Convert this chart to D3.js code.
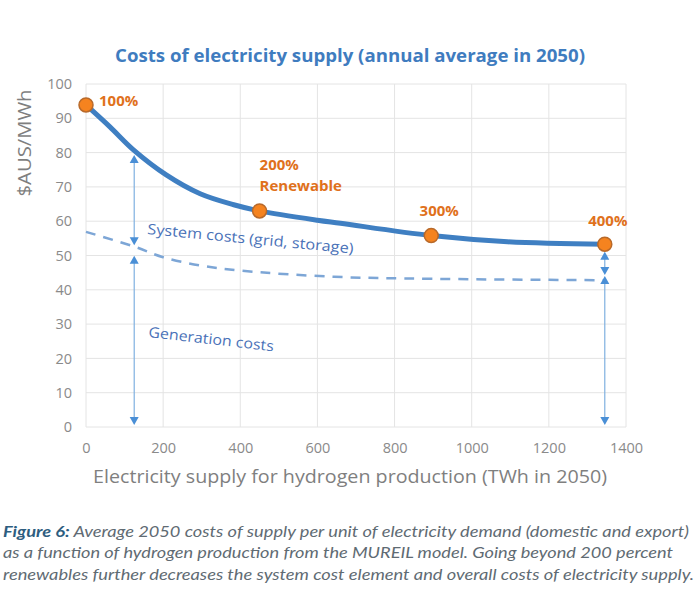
<!DOCTYPE html>
<html><head><meta charset="utf-8">
<script src="https://cdn.jsdelivr.net/npm/d3@7"></script>
<style>body{margin:0;background:#fff}svg{display:block}</style>
</head><body>
<svg id="c" width="700" height="592"></svg>
<script>
// ---- data ----
const xTicks = [0, 200, 400, 600, 800, 1000, 1200, 1400];
const yTicks = [0, 10, 20, 30, 40, 50, 60, 70, 80, 90, 100];
const totalX = [0, 62, 123, 208, 296, 383, 450, 600, 660, 895, 1093, 1345];
const totalY = [93.9, 87.5, 80.8, 73.5, 68.0, 64.8, 63.0, 60.3, 59.4, 55.8, 54.0, 53.3];
const genX = [0, 125, 200, 296, 400, 643, 900, 1345];
const genY = [56.9, 52.6, 49.5, 47.1, 45.6, 43.8, 43.2, 42.8];
const markerX = [0, 450, 895, 1345];
const markerY = [93.9, 63.0, 55.8, 53.3];
const markerLabels = [["100%"], ["200%", "Renewable"], ["300%"], ["400%"]];
const arrowX = [125, 125, 1345, 1345];
const arrowTop = [79.3, 49.9, 51.1, 44.0];
const arrowBottom = [53.0, 0.6, 44.3, 0.6];
const title = "Costs of electricity supply (annual average in 2050)";
const xTitle = "Electricity supply for hydrogen production (TWh in 2050)";
const yTitle = "$AUS/MWh";
const captionBold = "Figure 6:";
const captionLines = [
  " Average 2050 costs of supply per unit of electricity demand (domestic and export)",
  "as a function of hydrogen production from the MUREIL model. Going beyond 200 percent",
  "renewables further decreases the system cost element and overall costs of electricity supply."
];

const svg = d3.select("#c");
const x = d3.scaleLinear().domain([0, 1400]).range([86, 626]);
const y = d3.scaleLinear().domain([0, 100]).range([427, 84]);

// grid
svg.append("g").selectAll("line").data(yTicks).join("line")
  .attr("x1", x(0)).attr("x2", x(1400)).attr("y1", d => y(d)).attr("y2", d => y(d))
  .attr("stroke", "#e4e4e4").attr("stroke-width", 1);
svg.append("g").selectAll("line").data(xTicks).join("line")
  .attr("x1", d => x(d)).attr("x2", d => x(d)).attr("y1", y(0)).attr("y2", y(100))
  .attr("stroke", "#e4e4e4").attr("stroke-width", 1);

// axes
const yAxis = svg.append("g").attr("transform", `translate(${x(0)},0)`)
  .call(d3.axisLeft(y).tickValues(yTicks).tickSize(0).tickPadding(14));
yAxis.select(".domain").remove();
yAxis.selectAll("text").attr("font-family", "Open Sans").attr("font-size", 14.5).attr("fill", "#8a8a8a");
const xAxis = svg.append("g").attr("transform", `translate(0,${y(0)})`)
  .call(d3.axisBottom(x).tickValues(xTicks).tickFormat(d3.format("d")).tickSize(0).tickPadding(16));
xAxis.select(".domain").remove();
xAxis.selectAll("text").attr("font-family", "Open Sans").attr("font-size", 14.5).attr("fill", "#8a8a8a");

// titles
svg.append("text").attr("x", 350).attr("y", 62).attr("text-anchor", "middle")
  .attr("font-family", "Open Sans").attr("font-weight", 700).attr("font-size", 18.5)
  .attr("fill", "#3f7cbf").attr("textLength", 470).attr("lengthAdjust", "spacingAndGlyphs").text(title);
svg.append("text").attr("x", 350).attr("y", 483).attr("text-anchor", "middle")
  .attr("font-family", "Open Sans").attr("font-size", 18.5).attr("fill", "#7f7f7f")
  .attr("textLength", 514).attr("lengthAdjust", "spacingAndGlyphs").text(xTitle);
svg.append("text").attr("transform", "translate(31,143) rotate(-90)").attr("text-anchor", "middle")
  .attr("font-family", "Open Sans").attr("font-size", 18).attr("fill", "#7f7f7f")
  .attr("textLength", 107).attr("lengthAdjust", "spacingAndGlyphs").text(yTitle);

// generation (dashed) line
svg.append("path").datum(genX.map((d, i) => [d, genY[i]]))
  .attr("d", d3.line().x(d => x(d[0])).y(d => y(d[1])).curve(d3.curveCatmullRom.alpha(0.5)))
  .attr("fill", "none").attr("stroke", "#7da6d6").attr("stroke-width", 2.5)
  .attr("stroke-dasharray", "10,8");

// arrows
const ag = svg.append("g");
arrowX.forEach((ax, i) => {
  const px = x(ax), t = y(arrowTop[i]), b = y(arrowBottom[i]);
  ag.append("line").attr("x1", px).attr("x2", px).attr("y1", t + 4).attr("y2", b - 4)
    .attr("stroke", "#7fb0e0").attr("stroke-width", 1.2);
  ag.append("path").attr("d", `M${px},${t} L${px - 4.5},${t + 8} L${px + 4.5},${t + 8} Z`).attr("fill", "#4a8fd6");
  ag.append("path").attr("d", `M${px},${b} L${px - 4.5},${b - 8} L${px + 4.5},${b - 8} Z`).attr("fill", "#4a8fd6");
});

// total line
svg.append("path").datum(totalX.map((d, i) => [d, totalY[i]]))
  .attr("d", d3.line().x(d => x(d[0])).y(d => y(d[1])).curve(d3.curveCatmullRom.alpha(0.5)))
  .attr("fill", "none").attr("stroke", "#3f7fc2").attr("stroke-width", 5).attr("stroke-linecap", "round");

// markers
svg.append("g").selectAll("circle").data(markerX).join("circle")
  .attr("cx", d => x(d)).attr("cy", (d, i) => y(markerY[i])).attr("r", 7)
  .attr("fill", "#f5831f").attr("stroke", "#b8692a").attr("stroke-width", 1.5);

// marker labels
const lblOff = [[13, 1, "start"], [0, -41, "start"], [8, -20, "middle"], [3, -18, "middle"]];
markerLabels.forEach((lines, i) => {
  const px = x(markerX[i]) + lblOff[i][0], py = y(markerY[i]) + lblOff[i][1];
  lines.forEach((s, j) => {
    svg.append("text").attr("x", px).attr("y", py + j * 21).attr("text-anchor", lblOff[i][2])
      .attr("font-family", "Open Sans").attr("font-weight", 700).attr("font-size", 15)
      .attr("fill", "#e0711c").text(s);
  });
});

// annotations
svg.append("text").attr("transform", "translate(147,234) rotate(5.4)")
  .attr("font-family", "Open Sans").attr("font-size", 14.5).attr("fill", "#4a72b8")
  .attr("textLength", 207).attr("lengthAdjust", "spacingAndGlyphs").text("System costs (grid, storage)");
svg.append("text").attr("transform", "translate(148,337) rotate(6.5)")
  .attr("font-family", "Open Sans").attr("font-size", 14.5).attr("fill", "#4a72b8")
  .attr("textLength", 126).attr("lengthAdjust", "spacingAndGlyphs").text("Generation costs");

// caption
const capY = [537, 558, 580];
const capLen = [686, 670, 691];
captionLines.forEach((s, i) => {
  const t = svg.append("text").attr("x", 3).attr("y", capY[i])
    .attr("font-family", "Lato").attr("font-style", "italic").attr("font-size", 16)
    .attr("fill", "#5f6b73").attr("textLength", capLen[i]).attr("lengthAdjust", "spacingAndGlyphs");
  if (i === 0) {
    t.append("tspan").attr("font-weight", 700).attr("fill", "#2d5d80").text(captionBold);
  }
  t.append("tspan").text(s);
});
</script>
</body></html>
